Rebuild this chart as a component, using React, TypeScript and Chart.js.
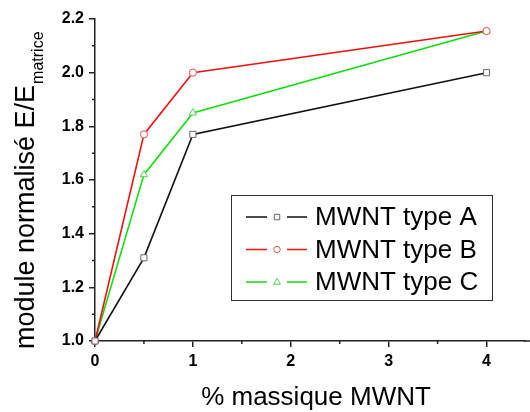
import React, { useEffect, useRef } from "react";
import { Chart, registerables } from "chart.js";
Chart.register(...registerables);

const xValues = [0, 0.5, 1, 4];
const typeA = [1.0, 1.31, 1.77, 2.0];
const typeB = [1.0, 1.77, 2.0, 2.155];
const typeC = [1.0, 1.62, 1.85, 2.155];
const seriesLabels = ["MWNT type A", "MWNT type B", "MWNT type C"];
const seriesColors = ["#111111", "#ee1111", "#11dd11"];
const markerColors = ["#666666", "#e05050", "#50d050"];
const markerShapes = ["rect", "circle", "triangle"];
const markerRadii = [4.3, 3.6, 4.2];
const xTitle = "% massique MWNT";
const yTitleMain = "module normalisé E/E";
const yTitleSub = "matrice";
const yMinorTicks = [1.1, 1.3, 1.5, 1.7, 1.9, 2.1];
const xMinorTicks = [0.5, 1.5, 2.5, 3.5];

const FONT = "'Liberation Sans', Arial, sans-serif";

function drawMarker(ctx: CanvasRenderingContext2D, shape: string, x: number, y: number, r: number, color: string) {
  ctx.save();
  ctx.fillStyle = "#ffffff";
  ctx.strokeStyle = color;
  ctx.lineWidth = 1;
  ctx.beginPath();
  if (shape === "rect") {
    const h = r * Math.SQRT1_2;
    ctx.rect(x - h, y - h, 2 * h, 2 * h);
  } else if (shape === "circle") {
    ctx.arc(x, y, r, 0, Math.PI * 2);
  } else {
    ctx.moveTo(x, y - r);
    ctx.lineTo(x + r * 0.9, y + r * 0.6);
    ctx.lineTo(x - r * 0.9, y + r * 0.6);
    ctx.closePath();
  }
  ctx.fill();
  ctx.stroke();
  ctx.restore();
}

const decorPlugin = {
  id: "decor",
  afterDraw(chart: any) {
    const ctx: CanvasRenderingContext2D = chart.ctx;
    const xs = chart.scales.x;
    const ys = chart.scales.y;
    const area = chart.chartArea;
    ctx.save();
    // axis extension to the right edge
    ctx.strokeStyle = "#222222";
    ctx.lineWidth = 1.5;
    ctx.beginPath();
    ctx.moveTo(area.right - 1, area.bottom);
    ctx.lineTo(chart.width, area.bottom);
    ctx.stroke();
    // minor ticks
    ctx.beginPath();
    for (const v of yMinorTicks) {
      const py = ys.getPixelForValue(v);
      ctx.moveTo(area.left, py);
      ctx.lineTo(area.left - 3, py);
    }
    for (const v of xMinorTicks) {
      const px = xs.getPixelForValue(v);
      ctx.moveTo(px, area.bottom);
      ctx.lineTo(px, area.bottom + 3);
    }
    ctx.stroke();

    // axis titles
    ctx.fillStyle = "#000000";
    ctx.textBaseline = "alphabetic";
    ctx.textAlign = "center";
    ctx.font = `26px ${FONT}`;
    ctx.fillText(xTitle, 316, 405);

    ctx.save();
    ctx.translate(34, 349);
    ctx.rotate(-Math.PI / 2);
    ctx.textAlign = "left";
    ctx.font = `27px ${FONT}`;
    ctx.fillText(yTitleMain, 0, 0);
    const w = ctx.measureText(yTitleMain).width;
    ctx.font = `16px ${FONT}`;
    ctx.fillText(yTitleSub, w + 1, 9);
    ctx.restore();

    // legend
    ctx.strokeStyle = "#333333";
    ctx.lineWidth = 1;
    ctx.strokeRect(231.5, 195.5, 261, 105);
    ctx.font = `26px ${FONT}`;
    ctx.textAlign = "left";
    ctx.textBaseline = "middle";
    for (let i = 0; i < seriesLabels.length; i++) {
      const y = 217 + i * 32.5;
      ctx.strokeStyle = seriesColors[i];
      ctx.lineWidth = 1.6;
      ctx.beginPath();
      ctx.moveTo(246, y);
      ctx.lineTo(267, y);
      ctx.moveTo(287, y);
      ctx.lineTo(307, y);
      ctx.stroke();
      drawMarker(ctx, markerShapes[i], 277, y, markerRadii[i] * 0.9, markerColors[i]);
      ctx.fillStyle = "#000000";
      ctx.fillText(seriesLabels[i], 315, y + 1);
    }
    ctx.restore();
  },
};

export default function App() {
  const ref = useRef<HTMLCanvasElement | null>(null);
  useEffect(() => {
    if (!ref.current) return;
    const series = [typeA, typeB, typeC];
    const chart = new Chart(ref.current, {
      type: "line",
      data: {
        datasets: series.map((vals, i) => ({
          label: seriesLabels[i],
          data: xValues.map((x, j) => ({ x, y: vals[j] })),
          borderColor: seriesColors[i],
          borderWidth: 1.6,
          tension: 0,
          fill: false,
          pointStyle: markerShapes[i] as any,
          pointRadius: markerRadii[i],
          pointBackgroundColor: "#ffffff",
          pointBorderColor: markerColors[i],
          pointBorderWidth: 1,
          clip: false as any,
        })),
      },
      options: {
        responsive: false,
        animation: false,
        devicePixelRatio: 1,
        layout: { padding: { top: 19, right: 0, left: 0, bottom: 0 } },
        plugins: { legend: { display: false }, tooltip: { enabled: false } },
        scales: {
          x: {
            type: "linear",
            min: 0,
            max: 4.39,
            afterFit: (s: any) => {
              s.height = 71;
            },
            ticks: {
              stepSize: 1,
              includeBounds: false,
              padding: 5,
              color: "#000000",
              font: { family: FONT, size: 16, weight: "bold" },
              callback: (v: any) => Number(v).toFixed(0),
              maxRotation: 0,
            },
            grid: { drawOnChartArea: false, drawTicks: true, tickLength: 6, color: "#222222", lineWidth: 1.5 },
            border: { display: true, color: "#222222", width: 1.5 },
          },
          y: {
            type: "linear",
            min: 1.0,
            max: 2.2,
            afterFit: (s: any) => {
              s.width = 95;
            },
            ticks: {
              stepSize: 0.2,
              padding: 5,
              color: "#000000",
              font: { family: FONT, size: 16, weight: "bold" },
              callback: (v: any) => Number(v).toFixed(1),
            },
            grid: { drawOnChartArea: false, drawTicks: true, tickLength: 6, color: "#222222", lineWidth: 1.5 },
            border: { display: true, color: "#222222", width: 1.5 },
          },
        },
      },
      plugins: [decorPlugin],
    });
    return () => chart.destroy();
  }, []);
  return (
    <div style={{ position: "fixed", left: 0, top: 0, width: 530, height: 412, background: "#ffffff" }}>
      <canvas ref={ref} width={530} height={412} style={{ display: "block" }} />
    </div>
  );
}
